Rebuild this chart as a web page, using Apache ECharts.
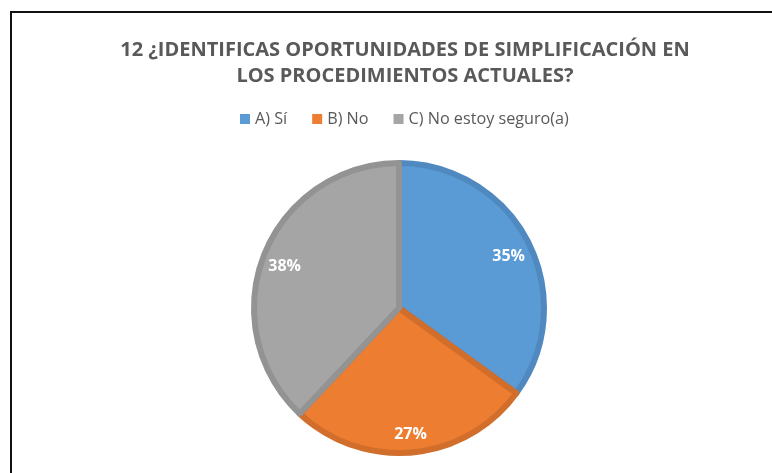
<!DOCTYPE html>
<html>
<head>
<meta charset="utf-8">
<script src="https://cdn.jsdelivr.net/npm/echarts@6/dist/echarts.min.js"></script>
<style>
  html, body { margin: 0; padding: 0; background: #fff; }
  #chart { width: 772px; height: 473px; }
</style>
</head>
<body>
<div id="chart"></div>
<script>
const categories = ['A) Sí', 'B) No', 'C) No estoy seguro(a)'];
const values = [35, 27, 38];
const fillColors = ['#5B9BD5', '#ED7D31', '#A5A5A5'];
const edgeColors = ['#4F89BF', '#D26E2B', '#939393'];

const chart = echarts.init(document.getElementById('chart'));

const pieData = categories.map((name, i) => ({
  name,
  value: values[i],
  itemStyle: { color: fillColors[i], borderColor: edgeColors[i] },
}));

// transparent ring only used to place the % labels further out
const labelData = categories.map((name, i) => ({
  name,
  value: values[i],
}));

chart.setOption({
  animation: false,
  title: {
    text: '12 ¿IDENTIFICAS OPORTUNIDADES DE SIMPLIFICACIÓN EN\nLOS PROCEDIMIENTOS ACTUALES?',
    left: 400,
    textAlign: 'center',
    top: 32,
    textStyle: {
      fontFamily: 'Open Sans',
      fontSize: 20,
      fontWeight: 'bold',
      color: '#595959',
      lineHeight: 26,
    },
  },
  legend: {
    data: categories,
    top: 106,
    left: 235,
    itemWidth: 10,
    itemHeight: 10,
    itemGap: 25,
    icon: 'rect',
    itemStyle: { borderWidth: 0 },
    textStyle: { fontFamily: 'Open Sans', fontSize: 16.2, color: '#595959' },
  },
  graphic: [{
    type: 'rect',
    shape: { x: 11, y: 12, width: 800, height: 500 },
    style: { fill: 'none', stroke: '#111', lineWidth: 2 },
    silent: true,
  }],
  series: [
    {
      type: 'pie',
      center: [399, 308],
      radius: 145,
      startAngle: 90,
      clockwise: true,
      label: { show: false },
      labelLine: { show: false },
      itemStyle: { borderWidth: 6 },
      emphasis: { disabled: true },
      data: pieData,
    },
    {
      type: 'pie',
      center: [399, 308],
      radius: [92, 148],
      startAngle: 90,
      clockwise: true,
      silent: true,
      itemStyle: { color: 'rgba(0,0,0,0)' },
      label: {
        show: true,
        position: 'inside',
        formatter: '{d}%',
        color: '#fff',
        fontFamily: 'Open Sans',
        fontWeight: 'bold',
        fontSize: 16,
        offset: [0, 4],
      },
      labelLine: { show: false },
      emphasis: { disabled: true },
      data: labelData,
    },
  ],
});
</script>
</body>
</html>
